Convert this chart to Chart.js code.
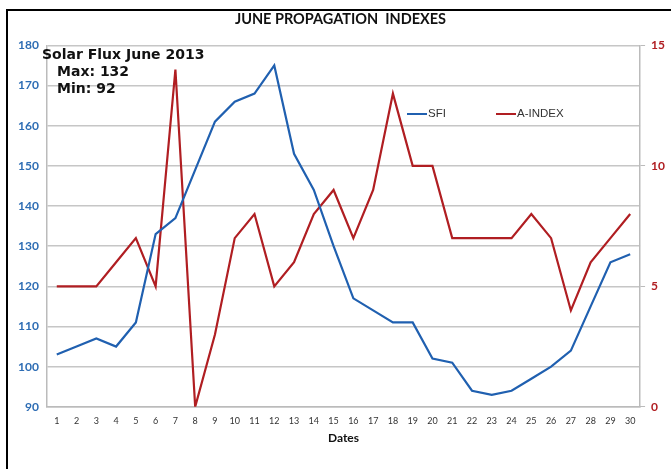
<!DOCTYPE html>
<html><head><meta charset="utf-8">
<script src="https://cdn.jsdelivr.net/npm/chart.js@4"></script>
<style>html,body{margin:0;padding:0;background:#fff;}canvas{display:block;}</style>
</head><body>
<canvas id="c" width="671" height="469"></canvas>
<script>
const dates = ['1','2','3','4','5','6','7','8','9','10','11','12','13','14','15','16','17','18','19','20','21','22','23','24','25','26','27','28','29','30'];
const sfi = [103,105,107,105,111,133,137,149,161,166,168,175,153,144,130,117,114,111,111,102,101,94,93,94,97,100,104,115,126,128];
const aIndex = [5,5,5,6,7,5,14,0,3,7,8,5,6,8,9,7,9,13,10,10,7,7,7,7,8,7,4,6,7,8];
const sfiTicks = [90,100,110,120,130,140,150,160,170,180];
const aTicks = [0,5,10,15];
const noteLines = ['Solar Flux June 2013','Max: 132','Min: 92'];

const BLUE = '#2060B0', RED = '#B01E22';

const extras = {
  id: 'extras',
  beforeDraw(chart) {
    const ctx = chart.ctx;
    ctx.save();
    ctx.fillStyle = '#000';
    ctx.fillRect(6, 9, 671, 2);
    ctx.fillRect(6, 9, 2, 469);
    ctx.restore();
  },
  afterDraw(chart) {
    const ctx = chart.ctx;
    ctx.save();
    ctx.fillStyle = '#111';
    ctx.textBaseline = 'middle';
    ctx.font = 'bold 14px "DejaVu Sans"';
    ctx.fillText(noteLines[0], 42, 55);
    ctx.fillText(noteLines[1], 57, 72);
    ctx.fillText(noteLines[2], 57, 89);
    // legend
    ctx.lineWidth = 2;
    ctx.strokeStyle = BLUE;
    ctx.beginPath(); ctx.moveTo(407, 114); ctx.lineTo(427, 114); ctx.stroke();
    ctx.strokeStyle = RED;
    ctx.beginPath(); ctx.moveTo(496, 114); ctx.lineTo(516, 114); ctx.stroke();
    ctx.font = '11.5px "Liberation Sans"';
    ctx.fillStyle = '#333';
    ctx.fillText(chart.data.datasets[0].label, 428, 114);
    ctx.fillText(chart.data.datasets[1].label, 517, 114);
    ctx.restore();
  }
};

new Chart(document.getElementById('c'), {
  type: 'line',
  data: {
    labels: dates,
    datasets: [
      {label: 'SFI', data: sfi, borderColor: BLUE, borderWidth: 2.2, pointRadius: 0, yAxisID: 'y', tension: 0},
      {label: 'A-INDEX', data: aIndex, borderColor: RED, borderWidth: 2.2, pointRadius: 0, yAxisID: 'y1', tension: 0}
    ]
  },
  options: {
    responsive: false,
    animation: false,
    layout: {padding: {left: 10, right: 0, top: 0, bottom: 17}},
    plugins: {
      legend: {display: false},
      tooltip: {enabled: false},
      title: {display: true, text: 'JUNE PROPAGATION  INDEXES', color: '#111',
        font: {family: 'Lato', weight: 'bold', size: 14.5}, padding: {top: 11, bottom: 17}}
    },
    scales: {
      x: {
        offset: true,
        grid: {display: false, drawTicks: false},
        border: {display: true, color: '#BBBBBB', width: 1.5},
        ticks: {color: '#333', font: {family: 'Lato', size: 9}, maxRotation: 0, autoSkip: false, padding: 9},
        title: {display: true, text: 'Dates', color: '#111', font: {family: 'Lato', weight: 'bold', size: 12}, padding: {top: -5, bottom: 7}}
      },
      y: {
        position: 'left', min: 90, max: 180,
        afterBuildTicks(ax) { ax.ticks = sfiTicks.map(v => ({value: v})); },
        grid: {color: '#C6C6C6', lineWidth: 1.5, drawTicks: false},
        border: {display: true, color: '#BBBBBB', width: 1.5},
        ticks: {color: '#2E6DB4', font: {family: 'Lato', weight: 'bold', size: 12}, padding: 8}
      },
      y1: {
        position: 'right', min: 0, max: 15,
        afterBuildTicks(ax) { ax.ticks = aTicks.map(v => ({value: v})); },
        grid: {drawOnChartArea: false, drawTicks: true, tickLength: 5, color: '#BBBBBB'},
        border: {display: true, color: '#BBBBBB', width: 1.5},
        ticks: {color: '#B01E22', font: {family: 'Lato', weight: 'bold', size: 12}, padding: 6}
      }
    }
  },
  plugins: [extras]
});
</script>
</body></html>
